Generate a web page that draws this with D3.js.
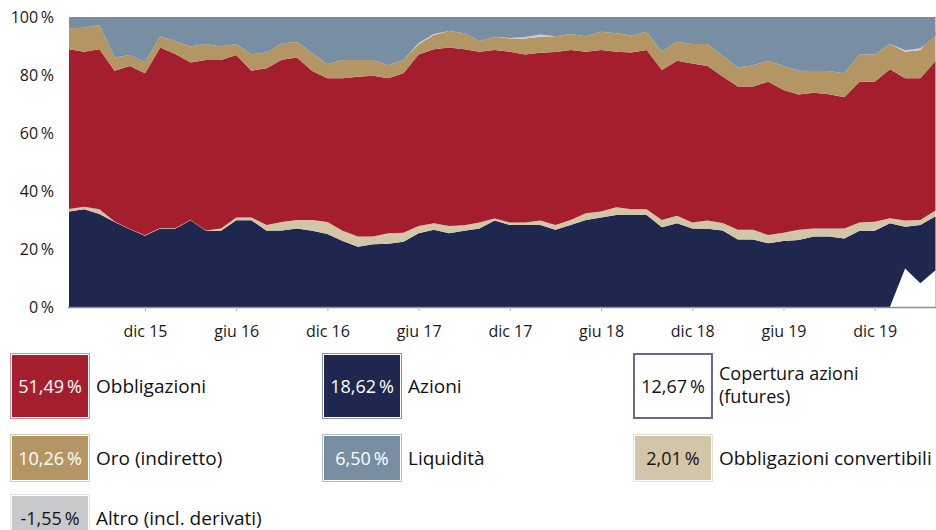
<!DOCTYPE html>
<html>
<head>
<meta charset="utf-8">
<script src="https://cdn.jsdelivr.net/npm/d3@7"></script>
<style>
  html, body { margin: 0; padding: 0; background: #fff; }
  svg { display: block; font-family: "Open Sans", "Noto Sans", sans-serif; }
</style>
</head>
<body>
<svg id="chart" width="936" height="530"></svg>
<script>
// ---------- DATA ----------
const months = [
  "2015-07","2015-08","2015-09","2015-10","2015-11","2015-12",
  "2016-01","2016-02","2016-03","2016-04","2016-05","2016-06","2016-07","2016-08","2016-09","2016-10","2016-11","2016-12",
  "2017-01","2017-02","2017-03","2017-04","2017-05","2017-06","2017-07","2017-08","2017-09","2017-10","2017-11","2017-12",
  "2018-01","2018-02","2018-03","2018-04","2018-05","2018-06","2018-07","2018-08","2018-09","2018-10","2018-11","2018-12",
  "2019-01","2019-02","2019-03","2019-04","2019-05","2019-06","2019-07","2019-08","2019-09","2019-10","2019-11","2019-12",
  "2020-01","2020-02","2020-03","2020-04"
];

// Azioni (gross exposure, before futures hedge)
const azioni = [
  32.9,33.7,32.1,29.3,26.8,24.6,27.1,27.1,29.9,26.3,26.3,29.9,29.9,26.3,26.4,27.1,26.3,25.2,
  22.8,20.8,21.6,21.8,22.5,25.4,26.6,25.4,26.3,27.1,29.8,28.3,28.3,28.3,26.6,28.3,30.0,30.9,
  31.7,31.7,31.7,27.5,28.9,27.1,27.0,26.4,23.3,23.3,22.0,22.8,23.1,24.3,24.3,23.6,26.3,26.3,
  28.9,27.7,28.3,31.29
];
const convertibili = [
  0.9,0.9,1.6,0.2,0.1,0.1,0.1,0.1,0.1,0.1,0.8,1.0,1.0,2.0,2.9,2.9,3.7,4.1,
  3.5,3.5,2.7,3.6,3.1,2.5,2.3,2.5,1.9,2.0,0.7,0.8,0.8,1.5,1.7,1.7,2.3,2.0,
  2.7,2.0,2.0,2.5,2.6,2.0,2.8,2.6,3.3,3.3,2.8,2.8,3.5,2.8,2.8,3.5,2.8,3.1,
  1.7,2.1,1.7,2.01
];
const obbligazioni = [
  55.1,53.4,55.2,52.0,56.2,55.9,62.3,60.0,54.3,58.8,58.1,56.0,50.6,54.0,56.0,56.0,51.4,49.6,
  52.6,55.1,55.4,53.5,55.0,59.2,60.0,61.6,60.7,58.9,58.1,58.9,58.0,57.9,59.6,58.6,55.7,55.7,
  53.6,54.1,54.9,51.7,53.4,54.9,53.3,50.5,49.4,49.4,52.9,49.2,46.7,46.8,46.3,45.2,48.6,48.3,
  51.4,49.1,48.9,51.49
];
const oro = [
  7.2,8.3,8.3,4.5,3.8,3.8,3.9,4.5,5.5,5.5,4.6,3.8,5.6,5.5,5.6,5.5,6.1,4.8,
  6.3,5.8,5.5,4.5,4.6,3.5,4.9,5.7,5.5,3.7,4.6,4.6,5.5,5.5,5.5,5.5,5.4,6.3,
  6.4,5.8,6.3,6.3,6.6,6.7,7.6,7.1,6.6,7.4,7.2,8.3,8.2,7.5,8.0,8.3,9.4,9.4,
  8.7,9.1,9.7,10.26
];
const altro = [
  0,0,0,0,0,0,0,0,0,0,0,0,0,0,0,0,0,0,
  0,0,0,0,0,0.4,0.3,0,0,0,0,0.2,0.5,0.8,0,0,0,0,
  0,0,0,0,0,0,0,0,0,0,0,0,0,0,0,0,0,0,
  0,0.5,0.6,-1.55
];
const liquidita = [
  3.9,3.7,2.8,14.0,13.1,15.6,6.6,8.3,10.2,9.3,10.2,9.3,12.9,12.2,9.1,8.5,12.5,16.3,
  14.8,14.8,14.8,16.6,14.8,9.0,5.9,4.8,5.6,8.3,6.8,7.2,6.9,6.0,6.6,5.9,6.6,5.1,
  5.6,6.4,5.1,12.0,8.5,9.3,9.3,13.4,17.4,16.6,15.1,16.9,18.5,18.6,18.6,19.4,12.9,12.9,
  9.3,11.5,10.8,6.50
];
// Copertura azioni (futures) – drawn as a white overlay from 0
const copertura = [
  0,0,0,0,0,0,0,0,0,0,0,0,0,0,0,0,0,0,
  0,0,0,0,0,0,0,0,0,0,0,0,0,0,0,0,0,0,
  0,0,0,0,0,0,0,0,0,0,0,0,0,0,0,0,0,0,
  0,13.3,8.2,12.67
];

const yTicks = [0, 20, 40, 60, 80, 100];
const xTickMonths = ["2015-12","2016-06","2016-12","2017-06","2017-12","2018-06","2018-12","2019-06","2019-12"];
const xTickLabels = ["dic 15","giu 16","dic 16","giu 17","dic 17","giu 18","dic 18","giu 19","dic 19"];

const legendLabels = [["Obbligazioni"], ["Azioni"], ["Copertura azioni", "(futures)"],
                      ["Oro (indiretto)"], ["Liquidità"], ["Obbligazioni convertibili"],
                      ["Altro (incl. derivati)"]];
const legendValues = ["51,49", "18,62", "12,67", "10,26", "6,50", "2,01", "-1,55"];

// ---------- STYLE ----------
const colors = {
  azioni: "#1F274F",
  convertibili: "#D3C6A8",
  obbligazioni: "#A51E2E",
  oro: "#B39664",
  altro: "#C8C9CB",
  liquidita: "#788FA3",
  copertura: "#FFFFFF"
};
const legendStyle = [
  {fill: colors.obbligazioni, border: "#D98C95", text: "#fff"},
  {fill: colors.azioni, border: "#8A90A8", text: "#fff"},
  {fill: "#fff", border: "#646B8C", text: "#111", thick: true},
  {fill: colors.oro, border: "#D8C8AC", text: "#fff"},
  {fill: colors.liquidita, border: "#B5C2CE", text: "#fff"},
  {fill: colors.convertibili, border: "#E8E0CF", text: "#111"},
  {fill: colors.altro, border: "#E2E3E4", text: "#111"}
];

// ---------- CHART ----------
const svg = d3.select("#chart");
const x = d3.scalePoint().domain(months).range([69, 935.5]);
const y = d3.scaleLinear().domain([0, 100]).range([307, 17]);

const keys = ["azioni", "convertibili", "obbligazioni", "oro", "altro", "liquidita"];
const series = { azioni, convertibili, obbligazioni, oro, altro, liquidita };
const rows = months.map((m, i) => {
  const r = { month: m };
  keys.forEach(k => r[k] = series[k][i]);
  r.copertura = copertura[i];
  return r;
});

const stacked = d3.stack().keys(keys).offset(d3.stackOffsetNone)(rows);
const area = d3.area()
  .x(d => x(d.data.month))
  .y0(d => y(d[0]))
  .y1(d => y(d[1]))
  .curve(d3.curveLinear);

svg.append("g").selectAll("path")
  .data(stacked)
  .join("path")
  .attr("d", area)
  .attr("fill", d => colors[d.key]);

// hedge overlay
const hedgeArea = d3.area()
  .x(d => x(d.month))
  .y0(y(0))
  .y1(d => y(d.copertura))
  .curve(d3.curveLinear);
svg.append("path").datum(rows).attr("d", hedgeArea).attr("fill", colors.copertura);

// x axis
const xAxis = d3.axisBottom(x)
  .tickValues(xTickMonths)
  .tickSize(4)
  .tickSizeOuter(0)
  .tickFormat(m => xTickLabels[xTickMonths.indexOf(m)]);
const gx = svg.append("g").attr("transform", `translate(0,${y(0)})`).call(xAxis);
gx.select(".domain").attr("stroke", "#8E8E8E").attr("stroke-width", 1.5).attr("d", `M68,0.5H936`);
gx.selectAll(".tick line").attr("stroke", "#B0B0B0").attr("stroke-width", 1);
gx.selectAll(".tick text")
  .attr("font-family", "Open Sans, sans-serif")
  .attr("font-size", 16).attr("fill", "#1a1a1a").attr("dy", 0).attr("y", 30);

// y axis
const yAxis = d3.axisLeft(y).tickValues(yTicks).tickSize(0).tickFormat(v => v + "\u2009%");
const gy = svg.append("g").attr("transform", "translate(54,0)").call(yAxis);
gy.select(".domain").remove();
gy.selectAll(".tick text")
  .attr("font-family", "Open Sans, sans-serif")
  .attr("font-size", 16).attr("fill", "#1a1a1a").attr("x", 0).attr("dy", "0.36em");

// ---------- LEGEND ----------
const colX = [10, 322, 633];
const rowY = [353, 434, 494];
const rowH = [66, 48, 48];
const lg = svg.append("g");
legendLabels.forEach((lab, i) => {
  const c = i % 3, r = Math.floor(i / 3);
  const bx = colX[c], by = rowY[r], bh = rowH[r], bw = 80;
  const st = legendStyle[i];
  const g = lg.append("g");
  if (st.thick) {
    g.append("rect").attr("x", bx + 1).attr("y", by + 1).attr("width", bw - 2).attr("height", bh - 2)
      .attr("fill", st.fill).attr("stroke", st.border).attr("stroke-width", 2);
  } else {
    g.append("rect").attr("x", bx + 0.5).attr("y", by + 0.5).attr("width", bw - 1).attr("height", bh - 1)
      .attr("fill", "#fff").attr("stroke", st.border).attr("stroke-width", 1);
    g.append("rect").attr("x", bx + 2).attr("y", by + 2).attr("width", bw - 4).attr("height", bh - 4)
      .attr("fill", st.fill);
  }
  const cy = by + bh / 2;
  g.append("text").attr("x", bx + bw / 2).attr("y", cy + 6.5)
    .attr("text-anchor", "middle").attr("font-size", 18).attr("fill", st.text)
    .text(legendValues[i] + "\u2009%");
  if (lab.length === 1) {
    g.append("text").attr("font-size", 19).attr("fill", "#111")
      .attr("x", bx + 86).attr("y", cy + 7).text(lab[0]);
  } else {
    g.append("text").attr("font-size", 18).attr("fill", "#111")
      .attr("x", bx + 86).attr("y", cy - 6).text(lab[0]);
    g.append("text").attr("font-size", 18).attr("fill", "#111")
      .attr("x", bx + 86).attr("y", cy + 17).text(lab[1]);
  }
});
</script>
</body>
</html>
